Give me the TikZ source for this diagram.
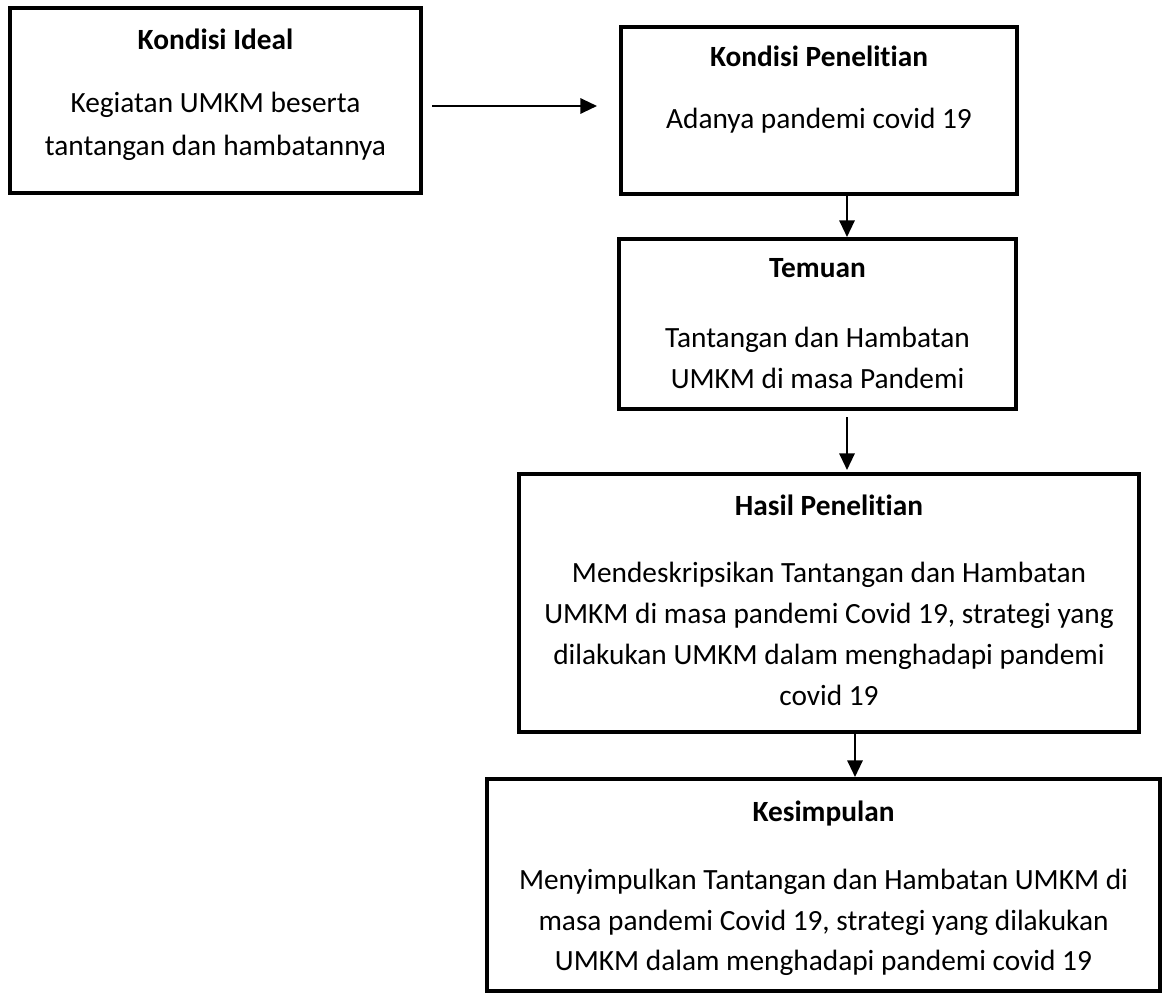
\documentclass[tikz,border=0pt]{standalone}
\usepackage{fontspec}
\setmainfont{Carlito}[Ligatures={NoCommon,NoRequired,NoContextual},RawFeature={-liga;-dlig;-clig}]
\usetikzlibrary{arrows.meta}
\newcommand{\nolig}{\kern0pt}
\tikzset{
  box/.style={draw, line width=3.7pt, inner sep=0pt, outer sep=0pt},
  ttl/.style={font=\fontsize{22pt}{26pt}\selectfont\bfseries, anchor=base, inner sep=0pt},
  txt/.style={font=\fontsize{22pt}{26pt}\selectfont, anchor=base, inner sep=0pt},
  conn/.style={line width=1.6pt, -{Triangle[length=12.5pt,width=11.5pt]}}
}
\begin{document}
\begin{tikzpicture}[x=0.75pt,y=-0.75pt]
\useasboundingbox (0,0) rectangle (1166,994);
% boxes
\node[box, minimum width=308.25pt, minimum height=138.75pt] (b1) at (215.5,100.5) {};
\node[box, minimum width=297pt, minimum height=125.25pt] (b2) at (819,110.5) {};
\node[box, minimum width=297.75pt, minimum height=127.5pt] (b3) at (817.5,324) {};
\node[box, minimum width=465pt, minimum height=193.5pt] (b4) at (829,603) {};
\node[box, minimum width=504.75pt, minimum height=159pt] (b5) at (823.5,885) {};
% texts
\node[ttl] (t1) at (215.5,50) {Kondisi Ideal};
\node[txt] (t1a) at (215.5,113) {Kegiatan UMKM beserta};
\node[txt] (t1b) at (215.5,156) {tantangan dan hambatannya};
\node[ttl] (t2) at (819,67) {Kondisi Peneli\nolig t\nolig i\nolig an};
\node[txt] (t2a) at (819,129) {Adanya pandemi covid 19};
\node[ttl] (t3) at (817.5,278) {Temuan};
\node[txt] (t3a) at (817.5,348) {Tantangan dan Hambatan};
\node[txt] (t3b) at (817.5,389) {UMKM di masa Pandemi};
\node[ttl] (t4) at (829,515) {Hasil Peneli\nolig t\nolig i\nolig an};
\node[txt] (t4a) at (829,582) {Mendeskripsikan Tantangan dan Hambatan};
\node[txt] (t4b) at (829,623) {UMKM di masa pandemi Covid 19, strategi yang};
\node[txt] (t4c) at (829,664) {dilakukan UMKM dalam menghadapi pandemi};
\node[txt] (t4d) at (829,705) {covid 19};
\node[ttl] (t5) at (823.5,821) {Kesimpulan};
\node[txt] (t5a) at (823.5,889) {Menyimpulkan Tantangan dan Hambatan UMKM di};
\node[txt] (t5b) at (823.5,930) {masa pandemi Covid 19, strategi yang dilakukan};
\node[txt] (t5c) at (823.5,970) {UMKM dalam menghadapi pandemi covid 19};
% connectors
\draw[conn] ([shift={(11,5.5)}]b1.east) -- ([shift={(-24,-4.5)}]b2.west);
\draw[conn] ([shift={(28,1)}]b2.south) -- ([shift={(29.5,-2)}]b3.north);
\draw[conn] ([shift={(29.5,8)}]b3.south) -- ([shift={(18,-4)}]b4.north);
\draw[conn] ([shift={(26,1)}]b4.south) -- ([shift={(31.5,-2)}]b5.north);
\end{tikzpicture}
\end{document}
